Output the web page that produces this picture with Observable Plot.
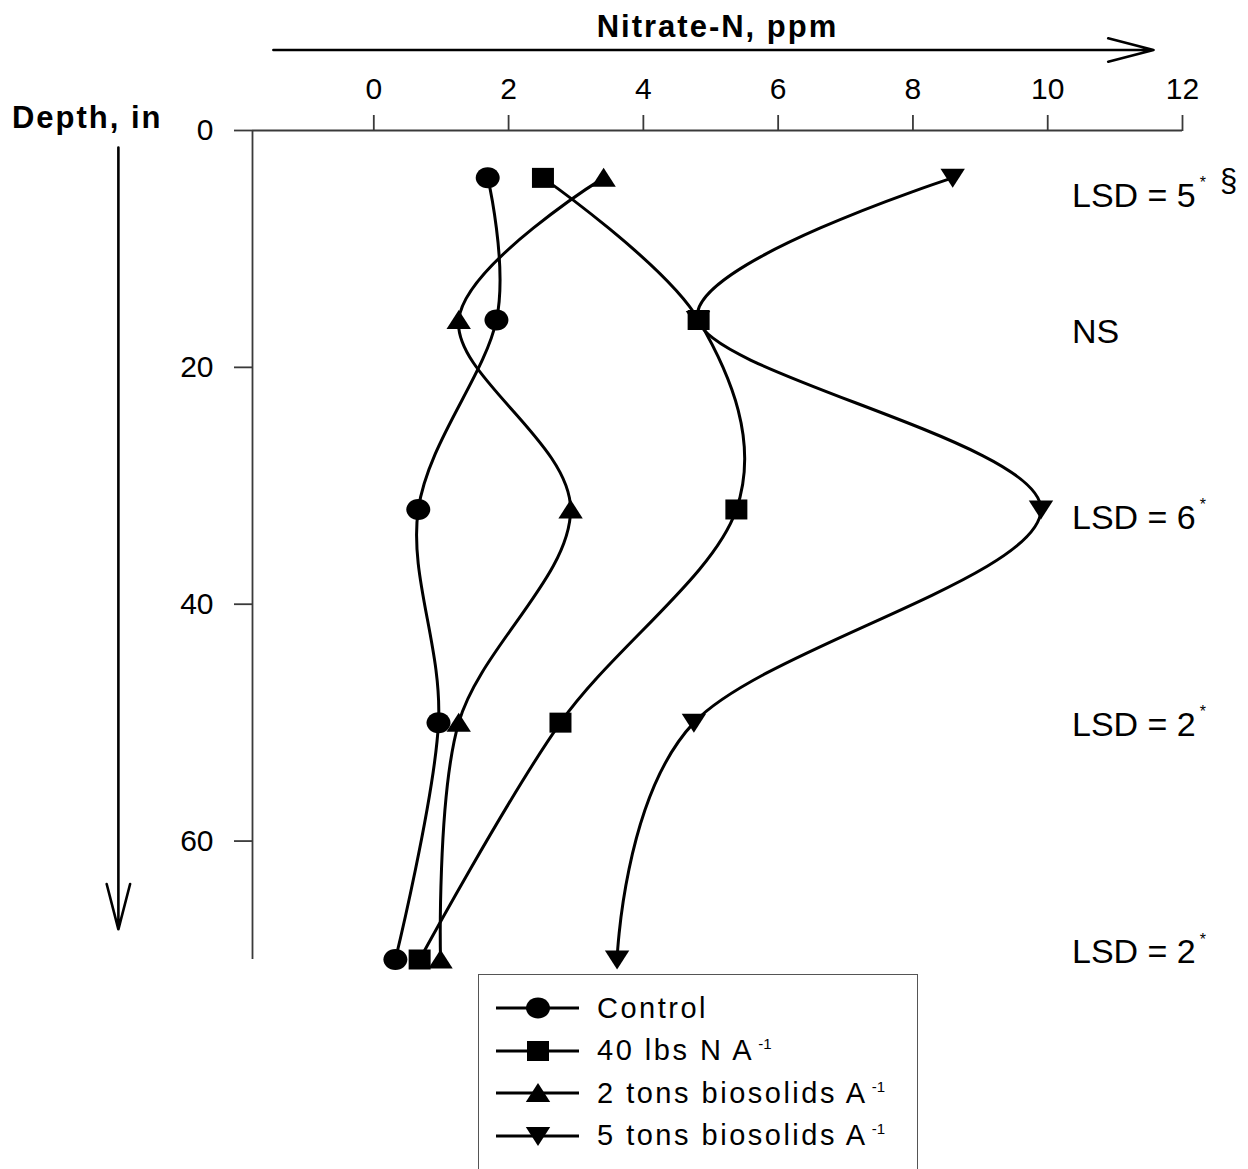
<!DOCTYPE html>
<html>
<head>
<meta charset="utf-8">
<script src="https://cdn.jsdelivr.net/npm/d3@7"></script>
<script src="https://cdn.jsdelivr.net/npm/@observablehq/plot@0.6"></script>
<style>
  html, body { margin: 0; padding: 0; background: #fff; overflow: hidden; }
  #wrap { position: relative; width: 1248px; height: 1169px; font-family: "Liberation Sans", Arial, sans-serif; }
  #chart svg { display: block; }
  #legend { position: absolute; left: 478px; top: 974px; width: 440px; height: 220px;
            border: 1.5px solid #555; border-bottom: none; background: #fff; box-sizing: border-box; }
  .row { position: absolute; left: 0; height: 42px; display: flex; align-items: center; }
  .row svg { display: block; }
  .row span { margin-left: 18px; font-size: 29px; letter-spacing: 2.5px; color: #000; white-space: nowrap; }
  .row sup { font-size: 15px; letter-spacing: 0; vertical-align: 11px; margin-left: 4px; line-height: 0; }
</style>
</head>
<body>
<div id="wrap">
  <div id="chart"></div>
  <div id="legend"></div>
</div>
<script>
// ---------------- data ----------------
const depths = [4, 16, 32, 50, 70];
const seriesNames = ["Control", "40 lbs N A", "2 tons biosolids A", "5 tons biosolids A"];
const seriesSup = ["", "-1", "-1", "-1"];
const control = [1.69, 1.82, 0.66, 0.96, 0.32];
const lbs40   = [2.51, 4.82, 5.38, 2.77, 0.68];
const tons2   = [3.41, 1.26, 2.92, 1.26, 0.99];
const tons5   = [8.59, 4.81, 9.90, 4.75, 3.61];
const xTicks = [0, 2, 4, 6, 8, 10, 12];
const yTicks = [0, 20, 40, 60];
const xDomain = [-1.8, 12];
const yDomain = [0, 70];
const xTitle = "Nitrate-N, ppm";
const yTitle = "Depth, in";
const lsdText = ["LSD = 5", "NS", "LSD = 6", "LSD = 2", "LSD = 2"];
const lsdSup  = ["*", "", "*", "*", "*"];
const lsdNote = ["§", "", "", "", ""];
const lsdDepth = [5.5, 17, 32.7, 50.2, 69.4];
const lsdX = 10.36;
// direction arrows (data units)
const arrows = [
  {x1: -1.49, y1: -6.8, x2: 11.57, y2: -6.8},
  {x1: -3.79, y1: 1.44, x2: -3.79, y2: 67.45}
];

// ---------------- symbols ----------------
const K = 0.5523;
const symEllipse = {draw(c) { const rx = 12, ry = 10.5;
  c.moveTo(rx, 0);
  c.bezierCurveTo(rx, ry * K, rx * K, ry, 0, ry);
  c.bezierCurveTo(-rx * K, ry, -rx, ry * K, -rx, 0);
  c.bezierCurveTo(-rx, -ry * K, -rx * K, -ry, 0, -ry);
  c.bezierCurveTo(rx * K, -ry, rx, -ry * K, rx, 0);
  c.closePath(); }};
const symSquare = {draw(c) { c.moveTo(-11, -10); c.lineTo(11, -10); c.lineTo(11, 10); c.lineTo(-11, 10); c.closePath(); }};
const symUp = {draw(c) { c.moveTo(0, -10); c.lineTo(12.2, 9); c.lineTo(-12.2, 9); c.closePath(); }};
const symDown = {draw(c) { c.moveTo(0, 10); c.lineTo(12.2, -9); c.lineTo(-12.2, -9); c.closePath(); }};
const symbols = [symEllipse, symSquare, symUp, symDown];

const values = [control, lbs40, tons2, tons5];
const rows = [];
values.forEach((vals, si) => vals.forEach((v, i) => rows.push({series: seriesNames[si], si, depth: depths[i], value: v})));

const axisColor = "#3a3a3a";
const lineW = 3;

const marks = [
  Plot.ruleY([yDomain[0]], {stroke: axisColor, strokeWidth: 1.8}),
  Plot.ruleX([xDomain[0]], {stroke: axisColor, strokeWidth: 1.8}),
  Plot.axisX({anchor: "top", ticks: xTicks, tickSize: 16, tickPadding: 16, label: null,
              fontSize: 30, stroke: axisColor, strokeWidth: 1.8, tickFormat: d => String(d)}),
  Plot.axisY({anchor: "left", ticks: yTicks, tickSize: 18, tickPadding: 21, label: null,
              fontSize: 30, stroke: axisColor, strokeWidth: 1.8, tickFormat: d => String(d)}),
  Plot.line(rows, {x: "value", y: "depth", z: "series", curve: "cardinal", stroke: "black", strokeWidth: lineW})
];
seriesNames.forEach((s, si) => {
  marks.push(Plot.dot(rows.filter(d => d.si === si), {x: "value", y: "depth", symbol: symbols[si], r: 6, fill: "black", stroke: "none"}));
});
marks.push(
  Plot.arrow(arrows, {x1: "x1", y1: "y1", x2: "x2", y2: "y2", stroke: "black", strokeWidth: 2.6, headLength: 27, headAngle: 29}),
  Plot.text(lsdText, {x: () => lsdX, y: (d, i) => lsdDepth[i], text: d => d, textAnchor: "start", lineAnchor: "middle",
                      fontSize: 34, fill: "black"}),
  Plot.text([xTitle], {frameAnchor: "top", dy: -94, text: d => d, lineAnchor: "bottom", fontSize: 31, fontWeight: "bold", fill: "black"}),
  Plot.text([yTitle], {frameAnchor: "top-left", dx: -90, dy: -3, text: d => d, textAnchor: "end", lineAnchor: "bottom", fontSize: 31, fontWeight: "bold", fill: "black"})
);

const chart = Plot.plot({
  width: 1248,
  height: 975,
  marginTop: 130,
  marginBottom: 16,
  marginLeft: 252,
  marginRight: 66,
  style: {fontFamily: "'Liberation Sans', Arial, sans-serif", background: "#fff", color: "#000", overflow: "visible"},
  x: {domain: xDomain},
  y: {domain: yDomain, reverse: true},
  marks
});
document.getElementById("chart").appendChild(chart);

const textGroups = d3.select(chart).selectAll('g[aria-label="text"]').nodes();
// [0] LSD labels, [1] x title, [2] y title
if (textGroups[1]) d3.select(textGroups[1]).selectAll("text").style("letter-spacing", "2px");
if (textGroups[2]) d3.select(textGroups[2]).selectAll("text").style("letter-spacing", "2px");

// superscripts in LSD labels
if (textGroups[0]) d3.select(textGroups[0]).selectAll("text").each(function(d, i) {
  const t = d3.select(this);
  t.text(null);
  t.append("tspan").text(lsdText[i]);
  if (lsdSup[i]) {
    t.append("tspan").attr("dx", 4).attr("dy", -18.5).style("font-size", "16px").text(lsdSup[i]);
  }
  if (lsdNote[i]) {
    t.append("tspan").attr("dx", 14).attr("dy", 3).style("font-size", "31px").text(lsdNote[i]);
  }
});

// ---------------- legend ----------------
const legend = d3.select("#legend");
seriesNames.forEach((name, i) => {
  const row = legend.append("div").attr("class", "row").style("top", (12 + i * 42.5) + "px");
  const svg = row.append("svg").attr("width", 100).attr("height", 42);
  svg.append("line").attr("x1", 17).attr("x2", 100).attr("y1", 21).attr("y2", 21)
     .attr("stroke", "black").attr("stroke-width", 2.8);
  svg.append("path").attr("transform", "translate(59,21)").attr("d", d3.symbol(symbols[i], 64)()).attr("fill", "black");
  const span = row.append("span").text(name);
  if (seriesSup[i]) span.append("sup").text(seriesSup[i]);
});
</script>
</body>
</html>
